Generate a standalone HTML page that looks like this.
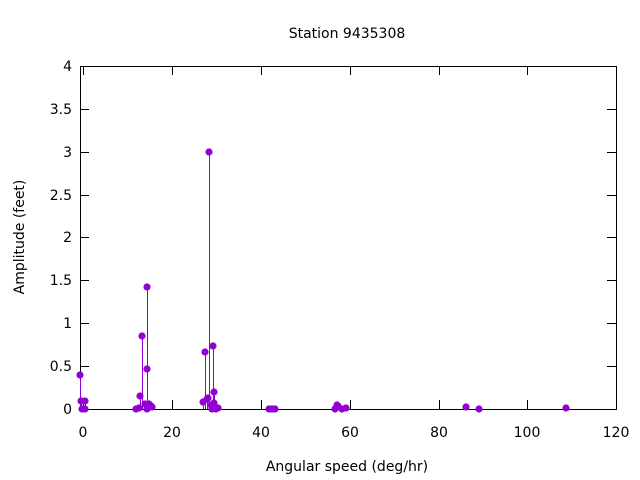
<!DOCTYPE html>
<html><head><style>body{margin:0;background:#fff}svg{display:block}text{font-family:"DejaVu Sans","Liberation Sans",sans-serif;font-size:14px;fill:#000}</style></head><body>
<svg width="640" height="480" xmlns="http://www.w3.org/2000/svg">
<rect width="640" height="480" fill="#fff"/>
<g stroke="#000" stroke-width="1" fill="none">
<rect x="80.5" y="66.5" width="536" height="343"/>
<path d="M80 409.5h9M80 366.5h9M80 323.5h9M80 280.5h9M80 237.5h9M80 195.5h9M80 152.5h9M80 109.5h9M80 66.5h9"/>
<path d="M607 409.5h9M607 366.5h9M607 323.5h9M607 280.5h9M607 237.5h9M607 195.5h9M607 152.5h9M607 109.5h9M607 66.5h9"/>
<path d="M83.5 409v-9M172.5 409v-9M261.5 409v-9M350.5 409v-9M439.5 409v-9M527.5 409v-9M616.5 409v-9"/>
<path d="M83.5 66v9M172.5 66v9M261.5 66v9M350.5 66v9M439.5 66v9M527.5 66v9"/>
</g>
<g text-anchor="end">
<text x="72" y="414">0</text><text x="72" y="371">0.5</text><text x="72" y="328">1</text><text x="72" y="285">1.5</text><text x="72" y="242">2</text><text x="72" y="200">2.5</text><text x="72" y="157">3</text><text x="72" y="114">3.5</text><text x="72" y="71">4</text>
</g>
<g text-anchor="middle">
<text x="83" y="437">0</text><text x="172" y="437">20</text><text x="261" y="437">40</text><text x="350" y="437">60</text><text x="439" y="437">80</text><text x="527" y="437">100</text><text x="616" y="437">120</text>
<text x="347" y="38">Station 9435308</text>
<text x="347" y="471">Angular speed (deg/hr)</text>
<text transform="translate(24,237) rotate(-90)">Amplitude (feet)</text>
</g>
<g stroke="#9400d3" stroke-width="1" fill="#9400d3">
<path d="M80.5 409V375M81.5 409V401M85.5 409V401M140.5 409V396M142.5 409V336M147.5 409V287M209.5 409V152M205.5 409V352M213.5 409V346M214.5 409V392M337.5 409V405M203.5 409V402M207.5 409V399"/>
<g stroke="none">
<circle cx="80" cy="375" r="3.6"/><circle cx="81" cy="401" r="3.6"/><circle cx="85" cy="401" r="3.6"/><circle cx="82" cy="409" r="3.6"/><circle cx="85" cy="409" r="3.6"/>
<circle cx="136" cy="409" r="3.6"/><circle cx="139" cy="408" r="3.6"/><circle cx="140" cy="396" r="3.6"/><circle cx="142" cy="336" r="3.6"/><circle cx="145" cy="404" r="3.6"/><circle cx="147" cy="409" r="3.6"/><circle cx="147" cy="287" r="3.6"/><circle cx="147" cy="369" r="3.6"/><circle cx="149" cy="404" r="3.6"/><circle cx="151" cy="406" r="3.6"/><circle cx="152" cy="407" r="3.6"/>
<circle cx="203" cy="402" r="3.6"/><circle cx="205" cy="352" r="3.6"/><circle cx="207" cy="399" r="3.6"/><circle cx="208" cy="398" r="3.6"/><circle cx="209" cy="152" r="3.6"/><circle cx="211" cy="405" r="3.6"/><circle cx="212" cy="409" r="3.6"/><circle cx="213" cy="346" r="3.6"/><circle cx="214" cy="392" r="3.6"/><circle cx="214" cy="403" r="3.6"/><circle cx="216" cy="409" r="3.6"/><circle cx="218" cy="408" r="3.6"/>
<circle cx="269" cy="409" r="3.6"/><circle cx="272" cy="409" r="3.6"/><circle cx="275" cy="409" r="3.6"/><circle cx="335" cy="409" r="3.6"/><circle cx="337" cy="405" r="3.6"/><circle cx="338" cy="406" r="3.6"/><circle cx="342" cy="409" r="3.6"/><circle cx="346" cy="408" r="3.6"/><circle cx="466" cy="407" r="3.6"/><circle cx="479" cy="409" r="3.6"/><circle cx="566" cy="408" r="3.6"/>
</g></g>
</svg>
</body></html>
